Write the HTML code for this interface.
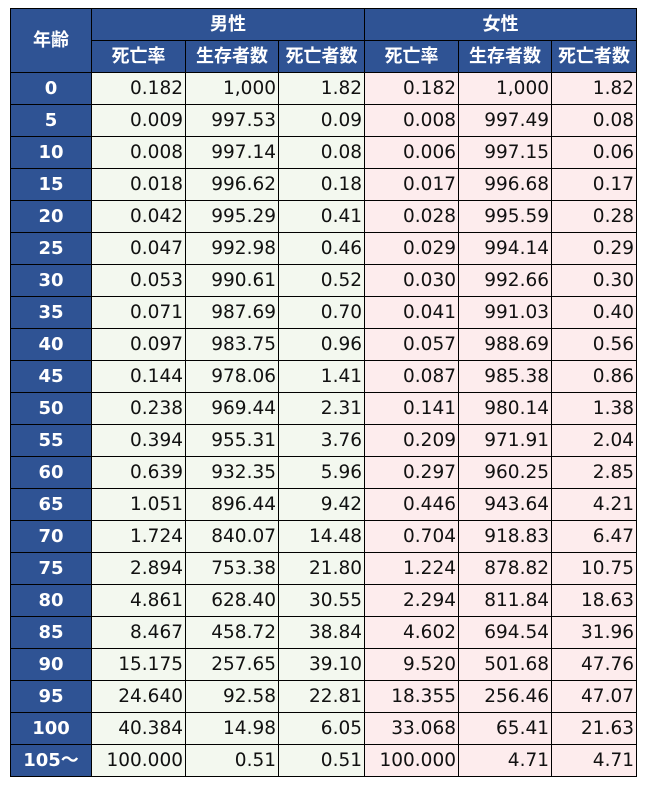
<!DOCTYPE html>
<html><head><meta charset="utf-8"><style>
html,body{margin:0;padding:0;background:#fff;width:645px;height:785px;overflow:hidden}
table{position:absolute;left:10px;top:8px;border-collapse:collapse;table-layout:fixed;font-family:"DejaVu Sans","Noto Sans CJK JP",sans-serif;font-size:18.5px;line-height:20px}
tr{height:32px}
td,th{border:1.5px solid #000;padding:0 2px 0 0;white-space:nowrap;overflow:hidden;line-height:20px}
th{background:#2f5394;color:#fff;font-weight:bold;text-align:center;font-size:18px;padding:0}
td{text-align:right;color:#111}
td.m{background:#f3f8ef}
td.f{background:#fdeced}
</style></head><body>
<table>
<colgroup><col style="width:81px"><col style="width:94px"><col style="width:93px"><col style="width:86px"><col style="width:94px"><col style="width:93px"><col style="width:85px"></colgroup>
<tr><th rowspan="2">年齢</th><th colspan="3">男性</th><th colspan="3">女性</th></tr>
<tr><th>死亡率</th><th>生存者数</th><th>死亡者数</th><th>死亡率</th><th>生存者数</th><th>死亡者数</th></tr>
<tr><th>0</th><td class="m">0.182</td><td class="m">1,000</td><td class="m">1.82</td><td class="f">0.182</td><td class="f">1,000</td><td class="f">1.82</td></tr>
<tr><th>5</th><td class="m">0.009</td><td class="m">997.53</td><td class="m">0.09</td><td class="f">0.008</td><td class="f">997.49</td><td class="f">0.08</td></tr>
<tr><th>10</th><td class="m">0.008</td><td class="m">997.14</td><td class="m">0.08</td><td class="f">0.006</td><td class="f">997.15</td><td class="f">0.06</td></tr>
<tr><th>15</th><td class="m">0.018</td><td class="m">996.62</td><td class="m">0.18</td><td class="f">0.017</td><td class="f">996.68</td><td class="f">0.17</td></tr>
<tr><th>20</th><td class="m">0.042</td><td class="m">995.29</td><td class="m">0.41</td><td class="f">0.028</td><td class="f">995.59</td><td class="f">0.28</td></tr>
<tr><th>25</th><td class="m">0.047</td><td class="m">992.98</td><td class="m">0.46</td><td class="f">0.029</td><td class="f">994.14</td><td class="f">0.29</td></tr>
<tr><th>30</th><td class="m">0.053</td><td class="m">990.61</td><td class="m">0.52</td><td class="f">0.030</td><td class="f">992.66</td><td class="f">0.30</td></tr>
<tr><th>35</th><td class="m">0.071</td><td class="m">987.69</td><td class="m">0.70</td><td class="f">0.041</td><td class="f">991.03</td><td class="f">0.40</td></tr>
<tr><th>40</th><td class="m">0.097</td><td class="m">983.75</td><td class="m">0.96</td><td class="f">0.057</td><td class="f">988.69</td><td class="f">0.56</td></tr>
<tr><th>45</th><td class="m">0.144</td><td class="m">978.06</td><td class="m">1.41</td><td class="f">0.087</td><td class="f">985.38</td><td class="f">0.86</td></tr>
<tr><th>50</th><td class="m">0.238</td><td class="m">969.44</td><td class="m">2.31</td><td class="f">0.141</td><td class="f">980.14</td><td class="f">1.38</td></tr>
<tr><th>55</th><td class="m">0.394</td><td class="m">955.31</td><td class="m">3.76</td><td class="f">0.209</td><td class="f">971.91</td><td class="f">2.04</td></tr>
<tr><th>60</th><td class="m">0.639</td><td class="m">932.35</td><td class="m">5.96</td><td class="f">0.297</td><td class="f">960.25</td><td class="f">2.85</td></tr>
<tr><th>65</th><td class="m">1.051</td><td class="m">896.44</td><td class="m">9.42</td><td class="f">0.446</td><td class="f">943.64</td><td class="f">4.21</td></tr>
<tr><th>70</th><td class="m">1.724</td><td class="m">840.07</td><td class="m">14.48</td><td class="f">0.704</td><td class="f">918.83</td><td class="f">6.47</td></tr>
<tr><th>75</th><td class="m">2.894</td><td class="m">753.38</td><td class="m">21.80</td><td class="f">1.224</td><td class="f">878.82</td><td class="f">10.75</td></tr>
<tr><th>80</th><td class="m">4.861</td><td class="m">628.40</td><td class="m">30.55</td><td class="f">2.294</td><td class="f">811.84</td><td class="f">18.63</td></tr>
<tr><th>85</th><td class="m">8.467</td><td class="m">458.72</td><td class="m">38.84</td><td class="f">4.602</td><td class="f">694.54</td><td class="f">31.96</td></tr>
<tr><th>90</th><td class="m">15.175</td><td class="m">257.65</td><td class="m">39.10</td><td class="f">9.520</td><td class="f">501.68</td><td class="f">47.76</td></tr>
<tr><th>95</th><td class="m">24.640</td><td class="m">92.58</td><td class="m">22.81</td><td class="f">18.355</td><td class="f">256.46</td><td class="f">47.07</td></tr>
<tr><th>100</th><td class="m">40.384</td><td class="m">14.98</td><td class="m">6.05</td><td class="f">33.068</td><td class="f">65.41</td><td class="f">21.63</td></tr>
<tr><th>105～</th><td class="m">100.000</td><td class="m">0.51</td><td class="m">0.51</td><td class="f">100.000</td><td class="f">4.71</td><td class="f">4.71</td></tr>
</table>
</body></html>
